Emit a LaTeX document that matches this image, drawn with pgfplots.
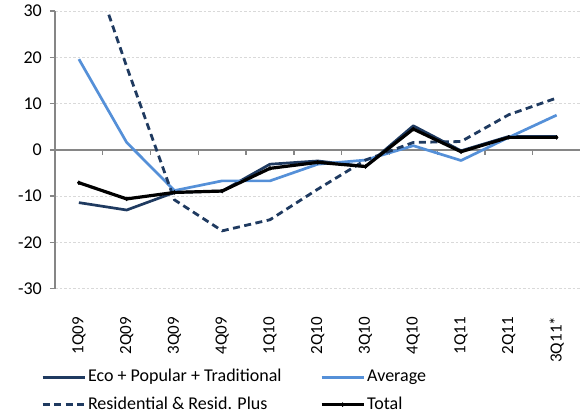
\documentclass[border=0pt]{standalone}
\usepackage{pgfplots}
\pgfplotsset{compat=1.18}
\usepackage{fontspec}
\setmainfont{Carlito}
\definecolor{navy}{HTML}{1F3A60}
\definecolor{lblue}{HTML}{5590D8}
\definecolor{gridc}{HTML}{D9D9D9}
\definecolor{axisc}{HTML}{868686}
\begin{document}
\fontsize{18bp}{21bp}\selectfont
\begin{tikzpicture}
\useasboundingbox (-55bp,-126.3bp) rectangle (525bp,288.7bp);
\begin{axis}[
  at={(0,0)}, anchor=south west,
  scale only axis, width=525.5bp, height=277.7bp,
  xmin=-0.5, xmax=10.5, ymin=-30, ymax=30,
  axis x line*=bottom, axis y line*=left,
  x axis line style={draw=none},
  y axis line style={draw=axisc, line width=1.3bp, -},
  xtick={0,...,10},
  xticklabels={1Q09,2Q09,3Q09,4Q09,1Q10,2Q10,3Q10,4Q10,1Q11,2Q11,3Q11*},
  xtick style={draw=none},
  xticklabel style={rotate=90, anchor=east, inner sep=0pt, font=\fontsize{17bp}{20bp}\selectfont},
  xticklabel shift=23bp,
  ytick={-30,-20,-10,0,10,20,30},
  ytick style={draw=axisc, line width=1.3bp},
  tick align=outside, major tick length=5bp,
  yticklabel style={anchor=east, inner sep=0pt, font=\fontsize{18bp}{21bp}\selectfont},
  yticklabel shift=8bp,
  /pgf/number format/assume math mode=true,
  ymajorgrids, grid style={draw=gridc, line width=0.8bp, dash pattern=on 2.5bp off 2bp},
  legend columns=2,
  legend style={draw=none, fill=none, at={(-0.0266,-0.289)}, anchor=north west,
    inner sep=0pt, column sep=2bp, row sep=11.5bp,
    nodes={inner sep=0pt, text height=12.5bp, text depth=3.5bp, font=\fontsize{18bp}{21bp}\selectfont}},
  legend cell align=left,
  legend image code/.code={\draw[mark repeat=2, mark phase=2, #1] plot coordinates {(0bp,0bp) (21bp,0bp) (42bp,0bp)};},
]
\draw[axisc, line width=1.3bp] (axis cs:-0.5,0) -- (axis cs:10.5,0);
\pgfplotsinvokeforeach{0.5,1.5,2.5,3.5,4.5,5.5,6.5,7.5,8.5,9.5,10.5}{
  \draw[axisc, line width=1.3bp] (axis cs:#1,0) -- ([yshift=-5bp]axis cs:#1,0);
}
\addplot[navy, line width=2.7bp, line join=round] coordinates {
(0,-11.4) (1,-13.0) (2,-9.2) (3,-8.9) (4,-3.1) (5,-2.4) (6,-3.6) (7,5.2) (8,-0.2) (9,2.9) (10,2.9)};
\addlegendentry{\makebox[230bp][l]{Eco + Popular + Traditional}}
\addplot[lblue, line width=2.7bp, line join=round] coordinates {
(0,19.6) (1,1.6) (2,-8.8) (3,-6.7) (4,-6.7) (5,-3.1) (6,-2.2) (7,0.9) (8,-2.3) (9,2.7) (10,7.5)};
\addlegendentry{Average}
\addplot[navy, line width=2.8bp, dash pattern=on 7bp off 4.5bp] coordinates {
(0,48) (1,18) (2,-10.8) (3,-17.5) (4,-15.1) (5,-8.5) (6,-2.2) (7,1.6) (8,1.8) (9,7.6) (10,11.2)};
\addlegendentry{\makebox[230bp][l]{Residential \& Resid. Plus}}
\addplot[black, line width=3.2bp, line join=round, mark=diamond*, mark size=2bp, mark options={solid, line width=0.5bp}] coordinates {
(0,-7.1) (1,-10.6) (2,-9.2) (3,-8.9) (4,-4.0) (5,-2.7) (6,-3.6) (7,4.5) (8,-0.4) (9,2.7) (10,2.7)};
\addlegendentry{Total}
\end{axis}
\end{tikzpicture}
\end{document}
